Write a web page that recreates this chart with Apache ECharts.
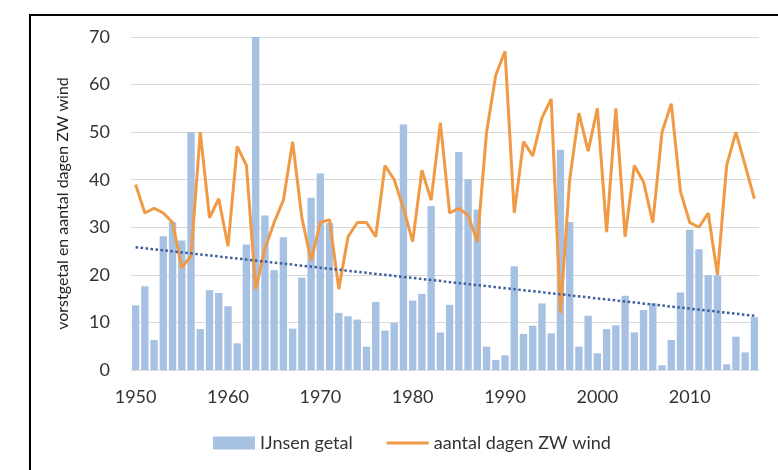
<!DOCTYPE html>
<html>
<head>
<meta charset="utf-8">
<script src="https://cdn.jsdelivr.net/npm/echarts@6/dist/echarts.min.js"></script>
<style>
html,body{margin:0;padding:0;background:#fff;}
#chart{width:778px;height:470px;}
</style>
</head>
<body>
<div id="chart"></div>
<script>
var years = [];
for (var y = 1950; y <= 2017; y++) years.push(String(y));

var ijnsenGetal = [
  13.6, 17.6, 6.3, 28.1, 31.1, 27.2, 50, 8.6, 16.8, 16.2,
  13.4, 5.6, 26.4, 70, 32.5, 21, 27.9, 8.7, 19.4, 36.2,
  41.3, 30.9, 12.0, 11.3, 10.6, 4.9, 14.3, 8.3, 9.9, 51.6,
  14.6, 16.0, 34.5, 7.9, 13.7, 45.8, 40.1, 33.7, 4.9, 2.1,
  3.1, 21.8, 7.6, 9.3, 14.0, 7.7, 46.3, 31.1, 4.9, 11.4,
  3.5, 8.6, 9.4, 15.6, 7.9, 12.6, 14.0, 1.0, 6.3, 16.3,
  29.5, 25.4, 19.9, 19.9, 1.2, 7.0, 3.7, 11.1
];

var dagenZW = [
  39, 33, 34, 33, 31, 21.5, 24, 50, 32, 36,
  26, 47, 43, 17, 25.5, 31, 35.7, 48, 32, 23,
  31, 31.6, 17, 28, 31, 31, 28, 43, 40, 34,
  27, 42, 35.7, 52, 33, 34, 32.5, 27, 50, 62,
  67, 33, 48, 45, 53, 57, 12, 40, 54, 46,
  55, 29, 55, 28, 43, 39.5, 31, 50, 56, 37.5,
  31, 30, 33, 20, 43, 50, 43, 36
];

// trend line end values
var trendStart = 25.8;
var trendEnd = 11.4;

var FONT = 'Lato';
var ORANGE = '#f09a46';
var chart = echarts.init(document.getElementById('chart'), null, {renderer: 'canvas'});
chart.setOption({
  animation: false,
  backgroundColor: '#fff',
  textStyle: {fontFamily: FONT},
  graphic: [{
    type: 'rect',
    shape: {x: 30, y: 15, width: 800, height: 500},
    style: {fill: 'none', stroke: '#000', lineWidth: 2},
    silent: true
  }],
  grid: {left: 131, right: 19, top: 37, bottom: 100},
  legend: {
    left: 208, top: 429,
    itemWidth: 42, itemHeight: 13, itemGap: 34,
    textStyle: {fontFamily: FONT, fontSize: 18, color: '#333'},
    data: [
      {name: 'IJnsen getal', icon: 'rect'},
      {name: 'aantal dagen ZW wind', icon: 'path://M0,0H42V3H0Z', itemStyle: {color: ORANGE}}
    ]
  },
  xAxis: {
    type: 'category',
    data: years,
    boundaryGap: true,
    axisLine: {show: true, lineStyle: {color: '#d9d9d9'}},
    axisTick: {show: false},
    axisLabel: {interval: 9, fontSize: 18, color: '#333', margin: 18, fontFamily: FONT}
  },
  yAxis: {
    type: 'value',
    min: 0, max: 70, interval: 10,
    name: 'vorstgetal en aantal dagen ZW wind',
    nameLocation: 'middle',
    nameGap: 60,
    nameTextStyle: {fontSize: 16, color: '#222', fontFamily: FONT},
    axisLine: {show: false},
    axisTick: {show: false},
    axisLabel: {fontSize: 18, color: '#333', margin: 21, fontFamily: FONT},
    splitLine: {lineStyle: {color: '#d9d9d9', width: 1}}
  },
  series: [
    {
      name: 'IJnsen getal',
      type: 'bar',
      data: ijnsenGetal,
      barCategoryGap: '20%',
      itemStyle: {color: '#a7c1e3'},
      markLine: {
        silent: true,
        symbol: ['none', 'none'],
        label: {show: false},
        lineStyle: {color: '#3d5f9c', type: 'dotted', width: 2.5},
        data: [[{coord: [0, trendStart]}, {coord: [years.length - 1, trendEnd]}]]
      }
    },
    {
      name: 'aantal dagen ZW wind',
      type: 'line',
      data: dagenZW,
      symbol: 'none',
      lineStyle: {color: ORANGE, width: 3},
      itemStyle: {color: ORANGE}
    }
  ]
});
</script>
</body>
</html>
